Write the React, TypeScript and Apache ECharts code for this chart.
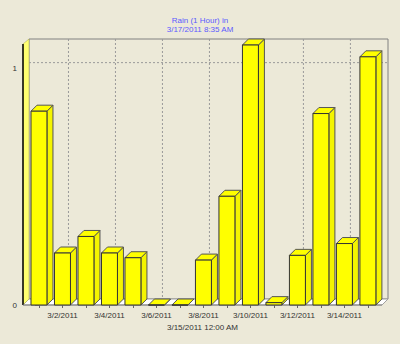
import React, { useEffect, useRef } from "react";
import * as echarts from "echarts";

const categories = [
  "3/1/2011", "3/2/2011", "3/3/2011", "3/4/2011", "3/5/2011",
  "3/6/2011", "3/7/2011", "3/8/2011", "3/9/2011", "3/10/2011",
  "3/11/2011", "3/12/2011", "3/13/2011", "3/14/2011", "3/15/2011",
];
const rainValues = [0.82, 0.22, 0.29, 0.22, 0.2, 0, 0, 0.19, 0.46, 1.1, 0.01, 0.21, 0.81, 0.26, 1.05];
const labelIndices = [1, 3, 5, 7, 9, 11, 13];
const yTickValues = [0, 0.25, 0.5, 0.75, 1];
const yLabelValues = [0, 1];
const titleLines = ["Rain (1 Hour) in", "3/17/2011 8:35 AM"];
const xAxisTitle = "3/15/2011 12:00 AM";

const BG = "#ece9d8";
const D = 6;

export default function App() {
  const ref = useRef<HTMLDivElement>(null);
  useEffect(() => {
    if (!ref.current) return;
    const chart = echarts.init(ref.current, null, { renderer: "svg" });
    const font = "Liberation Sans, Arial, sans-serif";
    const barData = rainValues.map((v, i) => [i, v]);
    chart.setOption({
      animation: false,
      backgroundColor: BG,
      title: {
        text: titleLines[0],
        subtext: titleLines[1],
        left: "center",
        top: 15.5,
        padding: 0,
        itemGap: 0.5,
        textStyle: { color: "#5a5aff", fontSize: 8, fontWeight: "normal", fontFamily: font, lineHeight: 9 },
        subtextStyle: { color: "#5a5aff", fontSize: 8, fontWeight: "normal", fontFamily: font, lineHeight: 9 },
      },
      grid: { left: 23, right: 18, top: 45, bottom: 39 },
      xAxis: {
        type: "value",
        min: -0.68,
        max: 14.6,
        name: xAxisTitle,
        nameLocation: "middle",
        nameGap: 16,
        nameTextStyle: { color: "#333", fontSize: 8, fontFamily: font },
        axisLine: { show: false },
        splitLine: { show: false },
        axisTick: {
          show: true,
          length: 3,
          lineStyle: { color: "#666" },
          customValues: categories.map((_, i) => i),
        },
        axisLabel: {
          color: "#333",
          fontSize: 8,
          fontFamily: font,
          margin: 6,
          customValues: labelIndices,
          formatter: (v: number) => categories[Math.round(v)] ?? "",
        },
      },
      yAxis: {
        type: "value",
        min: 0,
        max: 1.1,
        axisLine: { show: false },
        splitLine: { show: false },
        axisTick: {
          show: true,
          length: 4,
          lineStyle: { color: "#666" },
          customValues: yTickValues,
        },
        axisLabel: {
          color: "#333",
          fontSize: 8,
          fontFamily: font,
          margin: 6,
          customValues: yLabelValues,
          formatter: (v: number) => String(v),
        },
      },
      series: [
        {
          type: "custom",
          z: 1,
          silent: true,
          clip: false,
          data: [[0, 0]],
          renderItem: (params: any, api: any) => {
            const cs = params.coordSys;
            const x0 = cs.x, y0 = cs.y, w = cs.width, h = cs.height;
            const yb = y0 + h;
            const children: any[] = [];
            children.push({
              type: "rect",
              shape: { x: x0 + D, y: y0 - D, width: w, height: h },
              style: { fill: BG, stroke: "#808080", lineWidth: 1 },
            });
            labelIndices.forEach((i) => {
              const px = api.coord([i, 0])[0] + D;
              children.push({
                type: "line",
                shape: { x1: px, y1: y0 - D, x2: px, y2: yb - D },
                style: { stroke: "#9a9a9a", lineWidth: 1, lineDash: [2, 2] },
              });
            });
            const py = api.coord([0, 1])[1] - D;
            children.push({
              type: "line",
              shape: { x1: x0 + D, y1: py, x2: x0 + w + D, y2: py },
              style: { stroke: "#9a9a9a", lineWidth: 1, lineDash: [2, 2] },
            });
            children.push({
              type: "polygon",
              shape: { points: [[x0, yb], [x0 + w, yb], [x0 + w + D, yb - D], [x0 + D, yb - D]] },
              style: { fill: "#ffffff", stroke: "#a0a0a0", lineWidth: 1 },
            });
            children.push({
              type: "polygon",
              shape: { points: [[x0, yb], [x0, y0 - 1], [x0 + D, y0 - D], [x0 + D, yb - D]] },
              style: { fill: "#ffff70", stroke: "#b0b060", lineWidth: 0.6 },
            });
            children.push({
              type: "line",
              shape: { x1: x0, y1: y0 - 1, x2: x0, y2: yb },
              style: { stroke: "#000", lineWidth: 1.5 },
            });
            children.push({
              type: "line",
              shape: { x1: x0, y1: yb, x2: x0 + w, y2: yb },
              style: { stroke: "#808080", lineWidth: 1 },
            });
            return { type: "group", children };
          },
        },
        {
          type: "custom",
          z: 2,
          clip: false,
          data: barData,
          renderItem: (params: any, api: any) => {
            const x = api.value(0);
            const v = api.value(1);
            const top = api.coord([x, v]);
            const base = api.coord([x, 0]);
            const bw = api.size([1, 0])[0] * 0.68;
            const xl = top[0] - bw / 2;
            const xr = top[0] + bw / 2;
            const yt = top[1];
            const yb = base[1];
            return {
              type: "group",
              children: [
                {
                  type: "polygon",
                  shape: { points: [[xr, yt], [xr + D, yt - D], [xr + D, yb - D], [xr, yb]] },
                  style: { fill: "#f4f400", stroke: "#555", lineWidth: 1 },
                },
                {
                  type: "polygon",
                  shape: { points: [[xl, yt], [xl + D, yt - D], [xr + D, yt - D], [xr, yt]] },
                  style: { fill: "#ffff00", stroke: "#555", lineWidth: 1 },
                },
                {
                  type: "rect",
                  shape: { x: xl, y: yt, width: bw, height: yb - yt },
                  style: { fill: "#ffff00", stroke: "#333", lineWidth: 1 },
                },
              ],
            };
          },
        },
      ],
    });
    return () => chart.dispose();
  }, []);
  return (
    <div
      ref={ref}
      style={{ position: "fixed", left: 0, top: 0, width: 400, height: 344, border: "none" }}
    />
  );
}
